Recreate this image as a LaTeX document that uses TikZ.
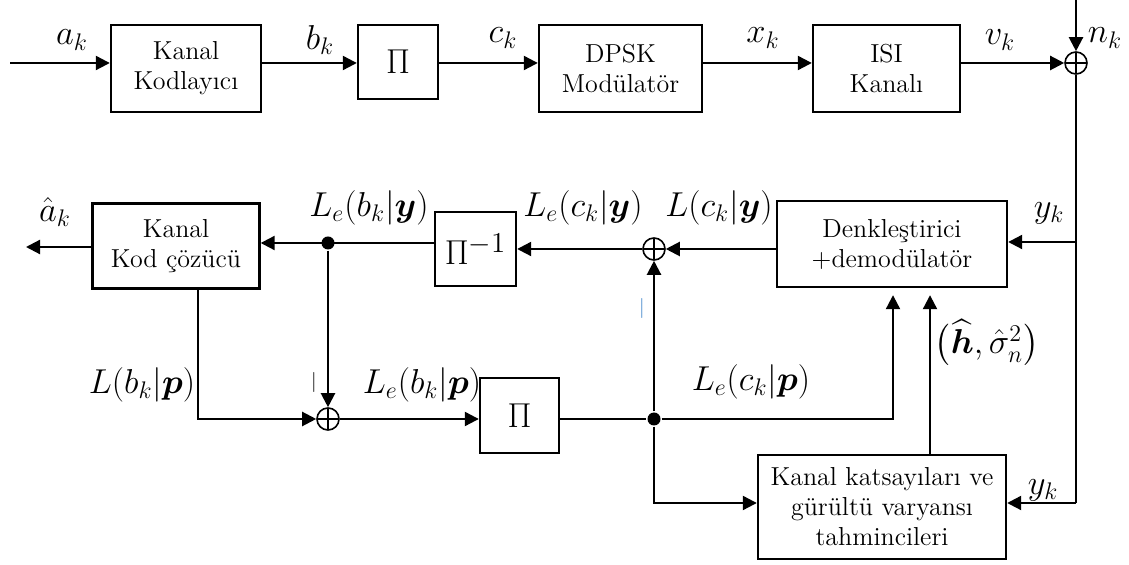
\documentclass[tikz,border=0pt]{standalone}
\usepackage{amsmath}
\usepackage{fontspec}
\usetikzlibrary{arrows.meta}
\definecolor{tickblue}{RGB}{60,130,200}
\begin{document}
\begin{tikzpicture}[x=0.5pt,y=-0.5pt,line width=1.1pt,
    blk/.style={draw,line width=1.2pt,inner sep=1pt,align=center,
      font=\fontsize{13}{15}\selectfont},
    sumnode/.style={circle,draw,line width=0.8pt,minimum size=11pt,inner sep=0pt,
      path picture={\draw[line width=0.8pt]
        (path picture bounding box.north) -- (path picture bounding box.south)
        (path picture bounding box.west) -- (path picture bounding box.east);}},
    dotnode/.style={circle,fill,minimum size=6.5pt,inner sep=0pt},
    lbl/.style={inner sep=0pt,font=\fontsize{16.5}{19}\selectfont},
    arr/.style={-{Triangle[length=7pt,width=7pt]}}]
  \useasboundingbox (0,0) rectangle (1129,565);

  % transmitter
  \node[blk,minimum width=75pt,minimum height=43.5pt] (enc) at (186,68.5) {Kanal\\Kodlayıcı};
  \node[blk,minimum width=40pt,minimum height=37pt,font=\fontsize{19}{22}\selectfont] (pi1) at (398,62) {$\Pi$};
  \node[blk,minimum width=81.5pt,minimum height=43.5pt] (mod) at (620.5,68.5) {DPSK\\Modülatör};
  \node[blk,minimum width=73.5pt,minimum height=43.5pt] (isi) at (886.5,68.5) {ISI\\Kanalı};
  \node[sumnode] (s1) at (1076,63) {};
  \coordinate (in) at (10,63);
  \coordinate (noise) at (1076,0);

  % receiver
  \node[blk,minimum width=83.5pt,minimum height=42.5pt] (dec) at (176,246) {Kanal\\Kod çözücü};
  \node[blk,minimum width=40.5pt,minimum height=37pt,font=\fontsize{19}{22}\selectfont] (pinv) at (475.5,249) {$\Pi^{-1}$};
  \node[blk,minimum width=115pt,minimum height=43pt] (dnk) at (892,244) {Denkleştirici\\+demodülatör};
  \node[blk,minimum width=39.5pt,minimum height=37.5pt,font=\fontsize{19}{22}\selectfont] (pi2) at (519.5,415.5) {$\Pi$};
  \node[blk,minimum width=124pt,minimum height=52pt] (est) at (882,507)
    {Kanal katsayıları ve\\gürültü varyansı\\tahmincileri};
  \node[sumnode] (s2) at (654,249) {};
  \node[sumnode] (s3) at (328,419) {};
  \node[dotnode] (d1) at (328,243) {};
  \node[dotnode] (d2) at (654,419) {};
  \coordinate (aout) at (26,247);
  \coordinate (yk1) at (1076,242);
  \coordinate (yk2) at (1076,503);
  \coordinate (lb) at (198,419);
  \coordinate (lc) at (893,419);
  \coordinate (le) at (654,503);
  \coordinate (hs) at (930,0);

  % labels
  \node[lbl] (ak) at (72,40) {$a_k$};
  \node[lbl] (bk) at (320,40) {$b_k$};
  \node[lbl] (ck) at (503,38) {$c_k$};
  \node[lbl] (xk) at (763,38) {$x_k$};
  \node[lbl] (vk) at (1000,40) {$v_k$};
  \node[lbl] (nk) at (1105,38) {$n_k$};
  \node[lbl] (ahat) at (55,212) {$\hat{a}_k$};
  \node[lbl] (leby) at (369,208) {$L_e(b_k|\boldsymbol{y})$};
  \node[lbl] (lecy) at (583,208) {$L_e(c_k|\boldsymbol{y})$};
  \node[lbl] (lcy) at (719,208) {$L(c_k|\boldsymbol{y})$};
  \node[lbl] (yka) at (1049,213) {$y_k$};
  \node[lbl] (lbp) at (142,385) {$L(b_k|\boldsymbol{p})$};
  \node[lbl] (lebp) at (422,385) {$L_e(b_k|\boldsymbol{p})$};
  \node[lbl] (lecp) at (751,382) {$L_e(c_k|\boldsymbol{p})$};
  \node[lbl] (hsig) at (987,343) {$\bigl(\widehat{\boldsymbol{h}},\hat{\sigma}_n^2\bigr)$};
  \node[lbl] (ykb) at (1043,490) {$y_k$};
  \node[inner sep=0pt] (t1) at (314,383) {$|$};
  \node[inner sep=0pt,text=tickblue] (t2) at (642,309) {$|$};

  \begin{scope}[arr]
    \draw (in) -- (in -| enc.west);
    \draw (enc.east |- in) -- (in -| pi1.west);
    \draw (pi1.east |- in) -- (in -| mod.west);
    \draw (mod.east |- in) -- (in -| isi.west);
    \draw (isi.east |- in) -- (s1);
    \draw (noise) -- (s1);
    \draw (yk1) -- (yk1 -| dnk.east);
    \draw (yk2) -- (yk2 -| est.east);
    \draw (dnk.west |- s2) -- (s2);
    \draw (s2) -- (s2 -| pinv.east);
    \draw (pinv.west |- d1) -- (d1 -| dec.east);
    \draw (dec.west |- aout) -- (aout);
    \draw (d1) -- (s3);
    \draw (dec.south -| lb) -- (lb) -- (s3);
    \draw (s3) -- (s3 -| pi2.west);
    \draw (d2) -- (s2);
    \draw (d2) -- (le) -- (le -| est.west);
    \draw[shorten >=3.5pt] (d2) -- (lc) -- (lc |- dnk.south);
    \draw[shorten >=3.5pt] (est.north -| hs) -- (hs |- dnk.south);
  \end{scope}
  \draw (s1) -- (yk2);
  \draw (pi2.east |- d2) -- (d2);
\end{tikzpicture}
\end{document}
